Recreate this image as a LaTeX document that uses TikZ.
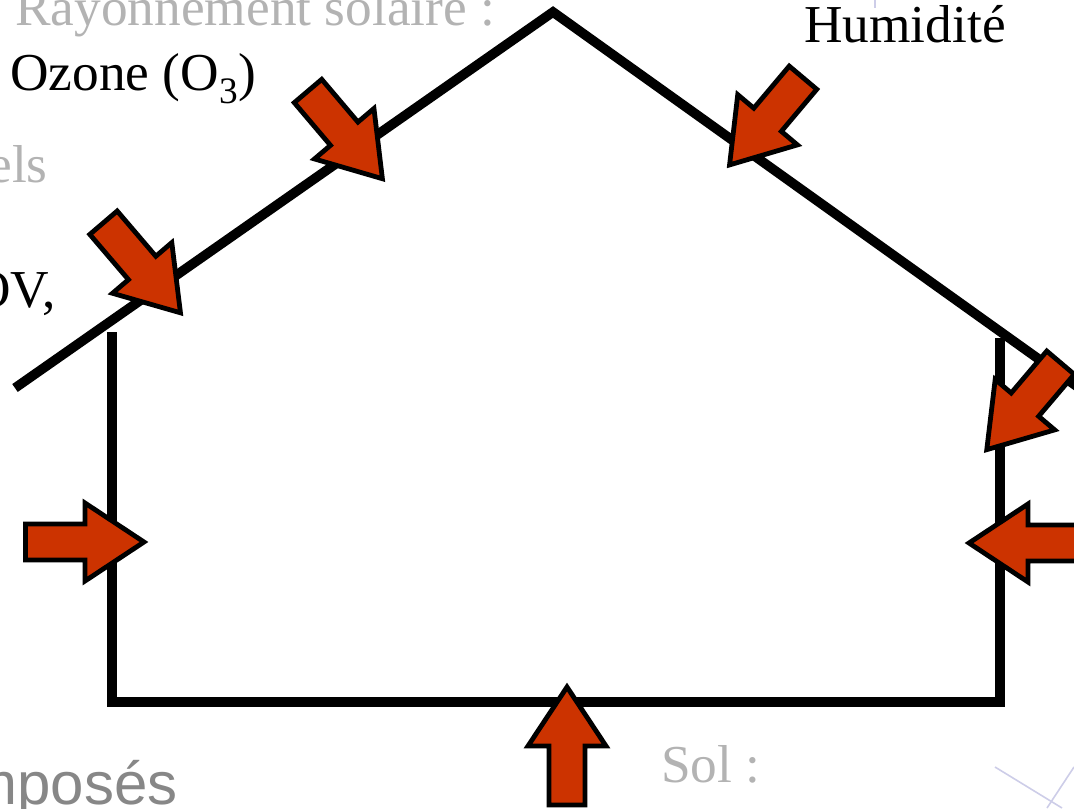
\documentclass[tikz,border=0pt]{standalone}
\usepackage{fontspec}
\setmainfont{Liberation Serif}
\setsansfont{Liberation Sans}
\definecolor{arrowred}{RGB}{204,51,0}
\definecolor{lightgrey}{RGB}{179,179,179}
\definecolor{midgrey}{RGB}{135,135,135}
\definecolor{faintblue}{RGB}{205,205,232}
\tikzset{
  house/.style={line width=7.2pt, line join=miter},
  barrow/.style={draw=black, fill=arrowred, line width=3.6pt, line join=miter, miter limit=10},
  lbl/.style={inner sep=0pt, font=\fontsize{40}{48}\selectfont},
  faint/.style={draw=faintblue, line width=1.2pt},
}
\newcommand\blockarrow[4]{%
  \draw[barrow, shift={(#1,#2)}, rotate=#3]
    (0,-18) -- ({#4-59},-18) -- ({#4-59},-39) -- (#4,0) -- ({#4-59},39) -- ({#4-59},18) -- (0,18) -- cycle;}
\begin{document}
\begin{tikzpicture}[x=0.75pt, y=-0.75pt]
  \useasboundingbox (0,0) rectangle (1074,808);
  \clip (0,0) rectangle (1074,808);
  % faint background remnants
  \draw[faint] (995,767) -- (1062,808);
  \draw[faint] (1074,767) -- (1047,808);
  \draw[faint] (875,0) -- (875,8);
  % texts
  \node[lbl, text=lightgrey, anchor=base west] (ray) at (15,25) {Rayonnement solaire :};
  \node[lbl, anchor=base west] (ozone) at (10,90) {Ozone (O\textsubscript{3})};
  \node[lbl, text=lightgrey, anchor=base east] (els) at (48,182) {els};
  \node[lbl, anchor=base east] (cov) at (56,307) {COV,};
  \node[lbl, anchor=base west] (hum) at (804,42) {Humidité};
  \node[lbl, text=lightgrey, anchor=base west] (sol) at (661,782) {Sol :};
  \node[inner sep=0pt, text=midgrey, anchor=base east, font=\sffamily\fontsize{45}{54}\selectfont] (comp) at (178,804) {composés};
  % house
  \draw[house] (15,388) -- (553,12) -- (1082,390);
  \draw[house] (112,332) -- (112,702) -- (1000,702) -- (1000,338);
  % arrows
  \blockarrow{308}{91}{-49.7}{115}
  \blockarrow{103.5}{222.7}{-49.5}{118.5}
  \blockarrow{803}{77.7}{-130.1}{114}
  \blockarrow{1060.5}{362.7}{-130.3}{114}
  \blockarrow{1087}{543}{180}{118}
  \blockarrow{25.5}{542}{0}{118.5}
  \blockarrow{567}{805}{90}{118}
\end{tikzpicture}
\end{document}
